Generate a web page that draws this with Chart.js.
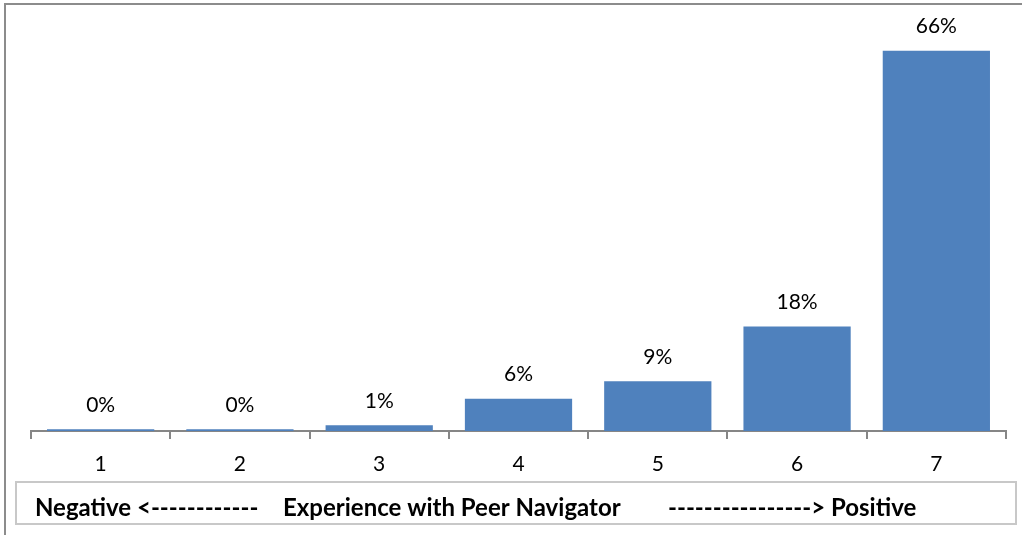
<!DOCTYPE html>
<html lang="en">
<head>
<meta charset="UTF-8">
<title>Experience with Peer Navigator</title>
<script src="https://cdn.jsdelivr.net/npm/chart.js"></script>
<style>
    body { margin: 0; background: #fff; overflow: hidden; }
    .wrap { width: 1022px; height: 535px; position: relative; }
</style>
</head>
<body>
<div class="wrap"><canvas id="myChart"></canvas></div>
<script>
    // values (percent of respondents)
    let ratings = ['1', '2', '3', '4', '5', '6', '7'];
    let percents = [0.3, 0.3, 1.0, 5.6, 8.6, 18.1, 65.9];
    let axisTitle = ['Negative <------------', 'Experience with Peer Navigator', '----------------> Positive'];

    // value labels above the bars
    const barLabels = {
        id: 'barLabels',
        afterDatasetsDraw(chart) {
            const ctx = chart.ctx;
            const meta = chart.getDatasetMeta(0);
            ctx.save();
            ctx.font = '21px Lato';
            ctx.fillStyle = '#000';
            ctx.textAlign = 'center';
            ctx.textBaseline = 'middle';
            meta.data.forEach((bar, i) => {
                ctx.fillText(Math.round(percents[i]) + '%', bar.x, bar.y - 24);
            });
            ctx.restore();
        }
    };

    // outer frame and the boxed axis caption
    const frames = {
        id: 'frames',
        afterDraw(chart) {
            const ctx = chart.ctx;
            ctx.save();
            ctx.strokeStyle = '#8c8c8c';
            ctx.lineWidth = 2;
            ctx.strokeRect(5, 4, 1040, 560);

            ctx.strokeStyle = '#c8c8c8';
            ctx.strokeRect(16, 482, 1000, 42);

            ctx.font = 'bold 24px Lato';
            ctx.fillStyle = '#000';
            ctx.textBaseline = 'middle';
            ctx.fillText(axisTitle[0], 35, 508);
            ctx.fillText(axisTitle[1], 283, 508);
            ctx.fillText(axisTitle[2], 668, 508);
            ctx.restore();
        }
    };

    let ctx = document.getElementById('myChart').getContext('2d');
    let barChart = new Chart(ctx, {
        type: 'bar',
        data: {
            labels: ratings,
            datasets: [{
                data: percents,
                backgroundColor: '#4f81bd',
                borderWidth: 0,
                categoryPercentage: 1,
                barPercentage: 0.77
            }]
        },
        options: {
            responsive: true,
            maintainAspectRatio: false,
            animation: false,
            layout: { padding: { left: 31, right: 16, top: 27, bottom: 0 } },
            plugins: {
                legend: { display: false },
                tooltip: { enabled: false }
            },
            scales: {
                x: {
                    grid: {
                        drawOnChartArea: false,
                        color: '#868686',
                        lineWidth: 2,
                        tickLength: 8
                    },
                    border: { display: true, color: '#868686', width: 2 },
                    ticks: {
                        color: '#000',
                        font: { family: 'Lato', size: 21 },
                        padding: 13
                    },
                    afterFit(scale) { scale.height = 104; }
                },
                y: {
                    display: false,
                    min: 0,
                    max: 70
                }
            }
        },
        plugins: [barLabels, frames]
    });
</script>
</body>
</html>
